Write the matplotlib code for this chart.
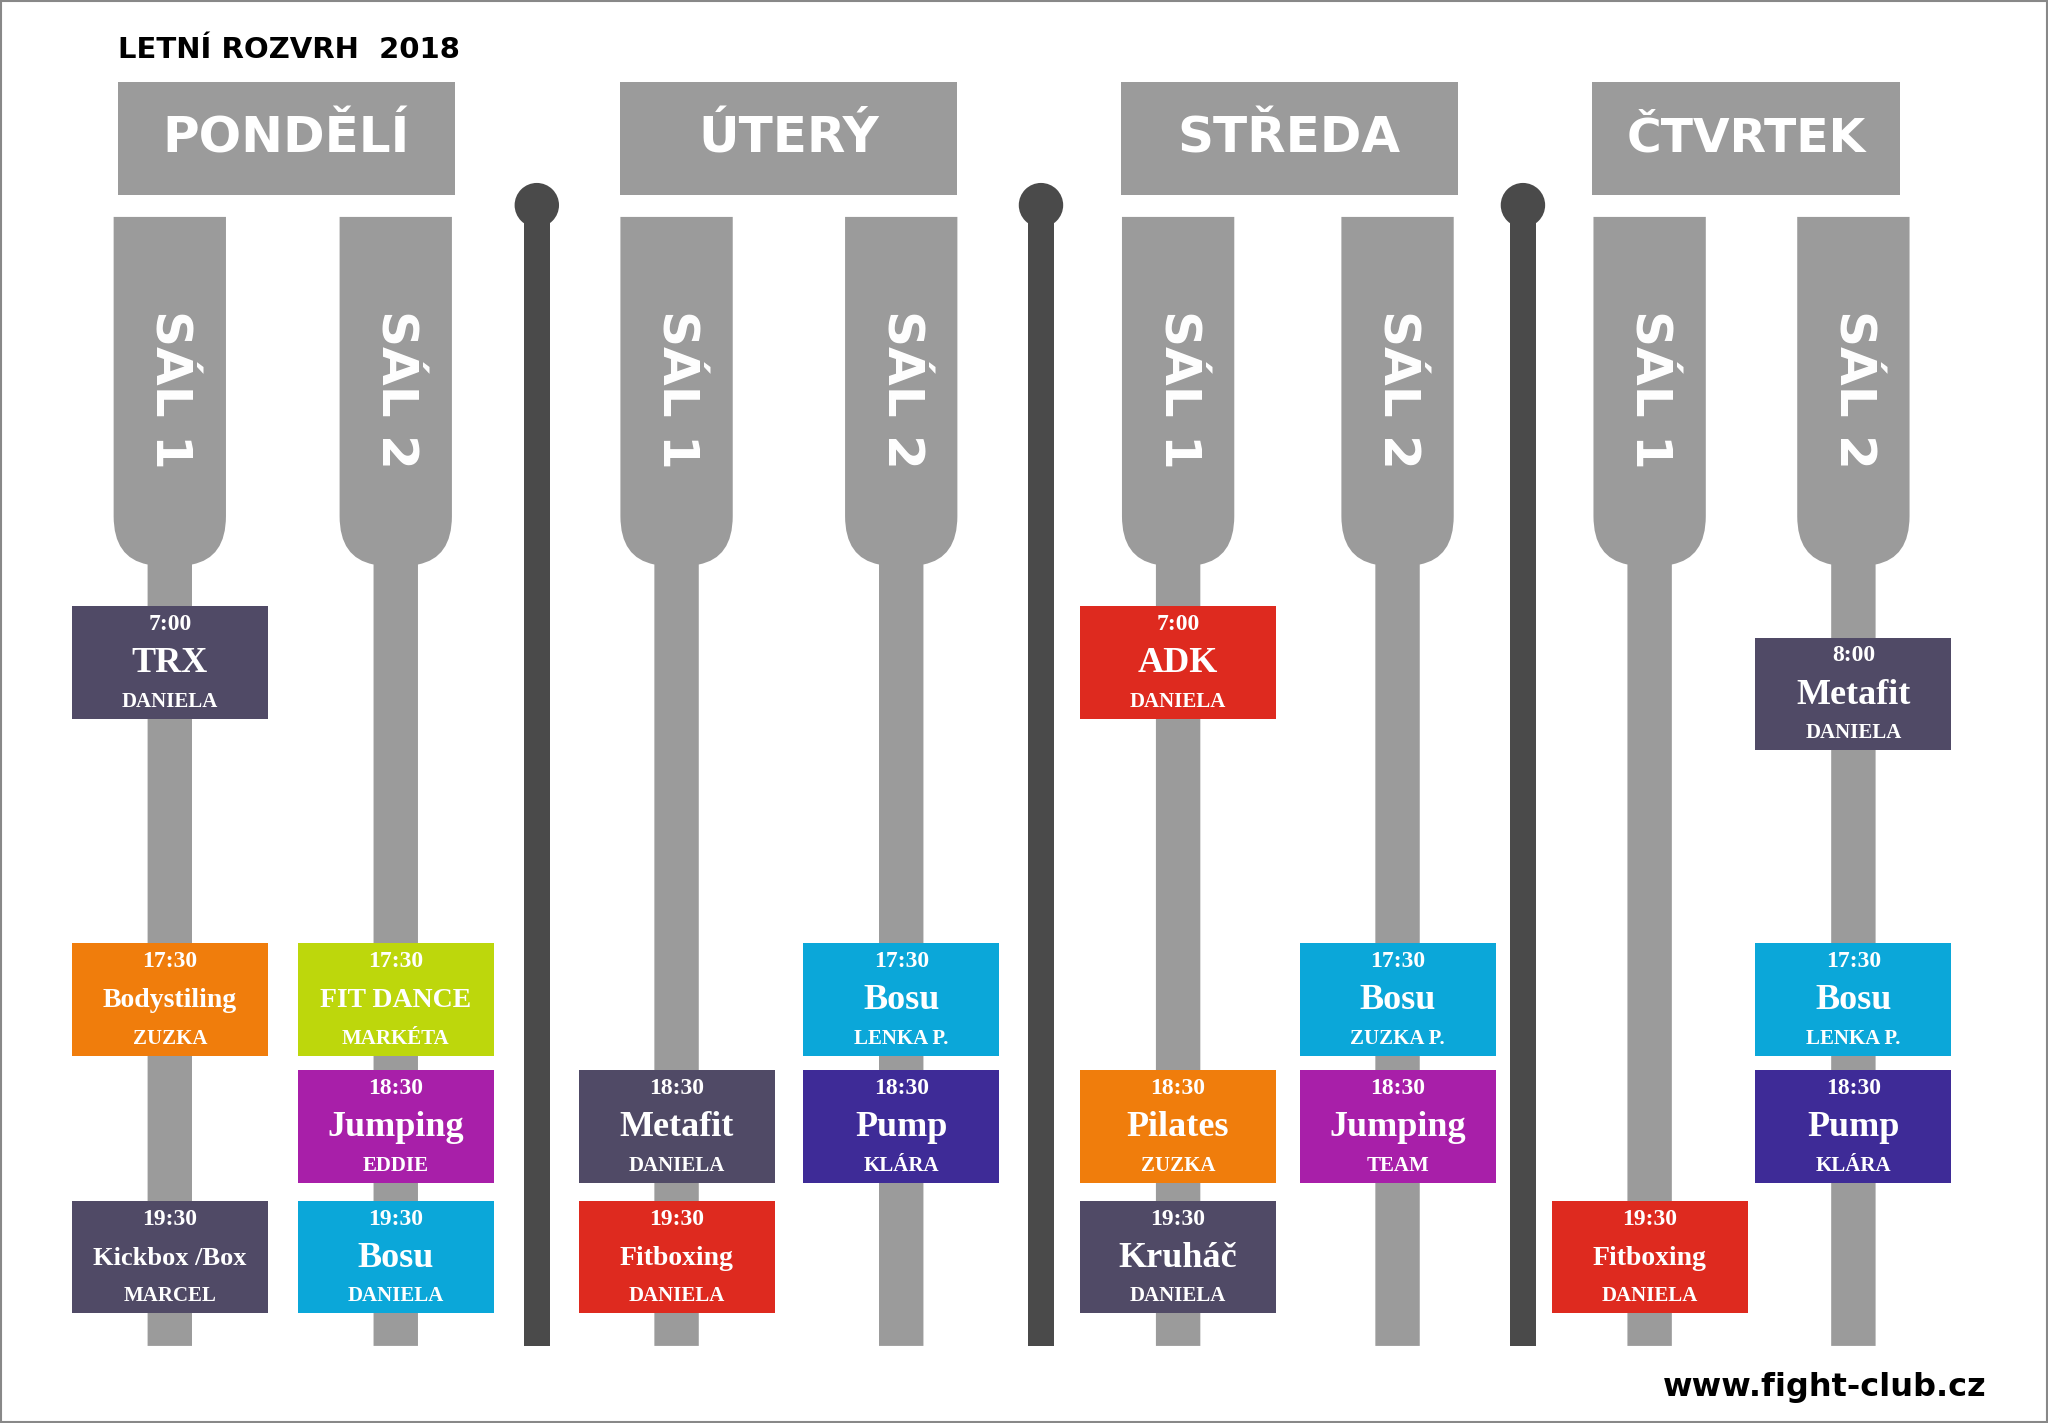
import numpy as np
import matplotlib
matplotlib.use('Agg')
import matplotlib.pyplot as plt
from matplotlib.patches import Rectangle, Circle, PathPatch
from matplotlib.path import Path

# schedule data
DAYS = ['PONDĚLÍ', 'ÚTERÝ', 'STŘEDA', 'ČTVRTEK']
HALLS = ['SÁL 1', 'SÁL 2']
CL_DAY = [0, 0, 0, 0, 0, 0, 1, 1, 1, 1, 2, 2, 2, 2, 2, 3, 3, 3, 3]
CL_HALL = [0, 0, 0, 1, 1, 1, 0, 0, 1, 1, 0, 0, 0, 1, 1, 0, 1, 1, 1]
CL_TIME = ['7:00', '17:30', '19:30', '17:30', '18:30', '19:30',
           '18:30', '19:30', '17:30', '18:30',
           '7:00', '18:30', '19:30', '17:30', '18:30',
           '19:30', '8:00', '17:30', '18:30']
CL_NAME = ['TRX', 'Bodystiling', 'Kickbox /Box', 'FIT DANCE', 'Jumping', 'Bosu',
           'Metafit', 'Fitboxing', 'Bosu', 'Pump',
           'ADK', 'Pilates', 'Kruháč', 'Bosu', 'Jumping',
           'Fitboxing', 'Metafit', 'Bosu', 'Pump']
CL_WHO = ['DANIELA', 'ZUZKA', 'MARCEL', 'MARKÉTA', 'EDDIE', 'DANIELA',
          'DANIELA', 'DANIELA', 'LENKA P.', 'KLÁRA',
          'DANIELA', 'ZUZKA', 'DANIELA', 'ZUZKA P.', 'TEAM',
          'DANIELA', 'DANIELA', 'LENKA P.', 'KLÁRA']
CL_COLOR = ['slate', 'orange', 'slate', 'lime', 'magenta', 'cyan',
            'slate', 'red', 'cyan', 'indigo',
            'red', 'orange', 'slate', 'cyan', 'magenta',
            'red', 'slate', 'cyan', 'indigo']

PALETTE = {'slate': '#504a66', 'orange': '#f07d0c', 'lime': '#bdd70c',
           'magenta': '#a81fa9', 'cyan': '#0ba7d9', 'red': '#de2a1f',
           'indigo': '#3e2b97'}
GREY = '#9b9b9b'
POLE = '#4a4a4a'

# time axis (piecewise, as in the poster)
T_HOURS = [7.0, 8.0, 17.5, 18.5, 19.5]
T_Y = [507, 531, 765, 862, 962]

DAY_X = [219, 604, 987, 1337]
DAY_W = [258, 258, 258, 236]
HALL_X = [[130, 303], [518, 690], [902, 1070], [1263, 1419]]
SEP_X = [411, 797, 1166]

BOLD = ['DejaVu Sans']
SERIF = ['Liberation Serif', 'DejaVu Serif']


def hour(s):
    h, m = s.split(':')
    return int(h) + int(m) / 60


def hall_shape(ax, cx, top=166, neck=395, stem_top=432, bottom=1030):
    hw, sw = 43, 17
    verts = [(cx - hw, top), (cx + hw, top), (cx + hw, neck),
             (cx + hw, stem_top - 5), (cx + sw, stem_top),
             (cx + sw, bottom), (cx - sw, bottom), (cx - sw, stem_top),
             (cx - hw, stem_top - 5), (cx - hw, neck), (cx - hw, top)]
    codes = [Path.MOVETO, Path.LINETO, Path.LINETO,
             Path.CURVE3, Path.CURVE3,
             Path.LINETO, Path.LINETO, Path.LINETO,
             Path.CURVE3, Path.CURVE3, Path.CLOSEPOLY]
    ax.add_patch(PathPatch(Path(verts, codes), fc=GREY, ec='none', zorder=1))


fig = plt.figure(figsize=(20.48, 14.23), dpi=100)
ax = fig.add_axes([0, 0, 1, 1])
ax.set_xlim(0, 1568)
ax.set_ylim(1089, 0)
ax.axis('off')
ax.add_patch(Rectangle((1, 1), 1566, 1087, fc='white', ec='#888888', lw=1.5, zorder=0))

ax.text(90, 38, 'LETNÍ ROZVRH  2018', family=BOLD, weight='bold', fontsize=21,
        va='center', ha='left', color='black')
ax.text(1521, 1062, 'www.fight-club.cz', family=BOLD, weight='bold', fontsize=23,
        va='center', ha='right', color='black')

for d, name in enumerate(DAYS):
    ax.add_patch(Rectangle((DAY_X[d] - DAY_W[d] / 2, 63), DAY_W[d], 86,
                           fc=GREY, ec='none', zorder=1))
    ax.text(DAY_X[d], 106, name, family=BOLD, weight='bold',
            fontsize=36 if d != 3 else 34,
            color='white', ha='center', va='center', zorder=2)
    for h, hname in enumerate(HALLS):
        cx = HALL_X[d][h]
        hall_shape(ax, cx)
        ax.text(cx, 298, hname, family=BOLD, weight='bold', fontsize=36,
                color='white', rotation=-90, ha='center', va='center', zorder=2)

for x in SEP_X:
    ax.add_patch(Rectangle((x - 10, 158), 20, 872, fc=POLE, ec='none', zorder=1))
    ax.add_patch(Circle((x, 157), 17, fc=POLE, ec='none', zorder=1))

bw, bh = 150, 86
for d, h, t, n, w, c in zip(CL_DAY, CL_HALL, CL_TIME, CL_NAME, CL_WHO, CL_COLOR):
    cx = HALL_X[d][h]
    cy = np.interp(hour(t), T_HOURS, T_Y)
    ax.add_patch(Rectangle((cx - bw / 2, cy - bh / 2), bw, bh,
                           fc=PALETTE[c], ec='none', zorder=3))
    ax.text(cx, cy - 29, t, family=SERIF, weight='bold', fontsize=17,
            color='white', ha='center', va='center', zorder=4)
    nsize = 26 if len(n) <= 7 else (20 if len(n) <= 11 else 19)
    ax.text(cx, cy + 1, n, family=SERIF, weight='bold', fontsize=nsize,
            color='white', ha='center', va='center', zorder=4)
    ax.text(cx, cy + 30, w, family=SERIF, weight='bold', fontsize=15,
            color='white', ha='center', va='center', zorder=4)

fig.savefig('out.png', dpi=100)
